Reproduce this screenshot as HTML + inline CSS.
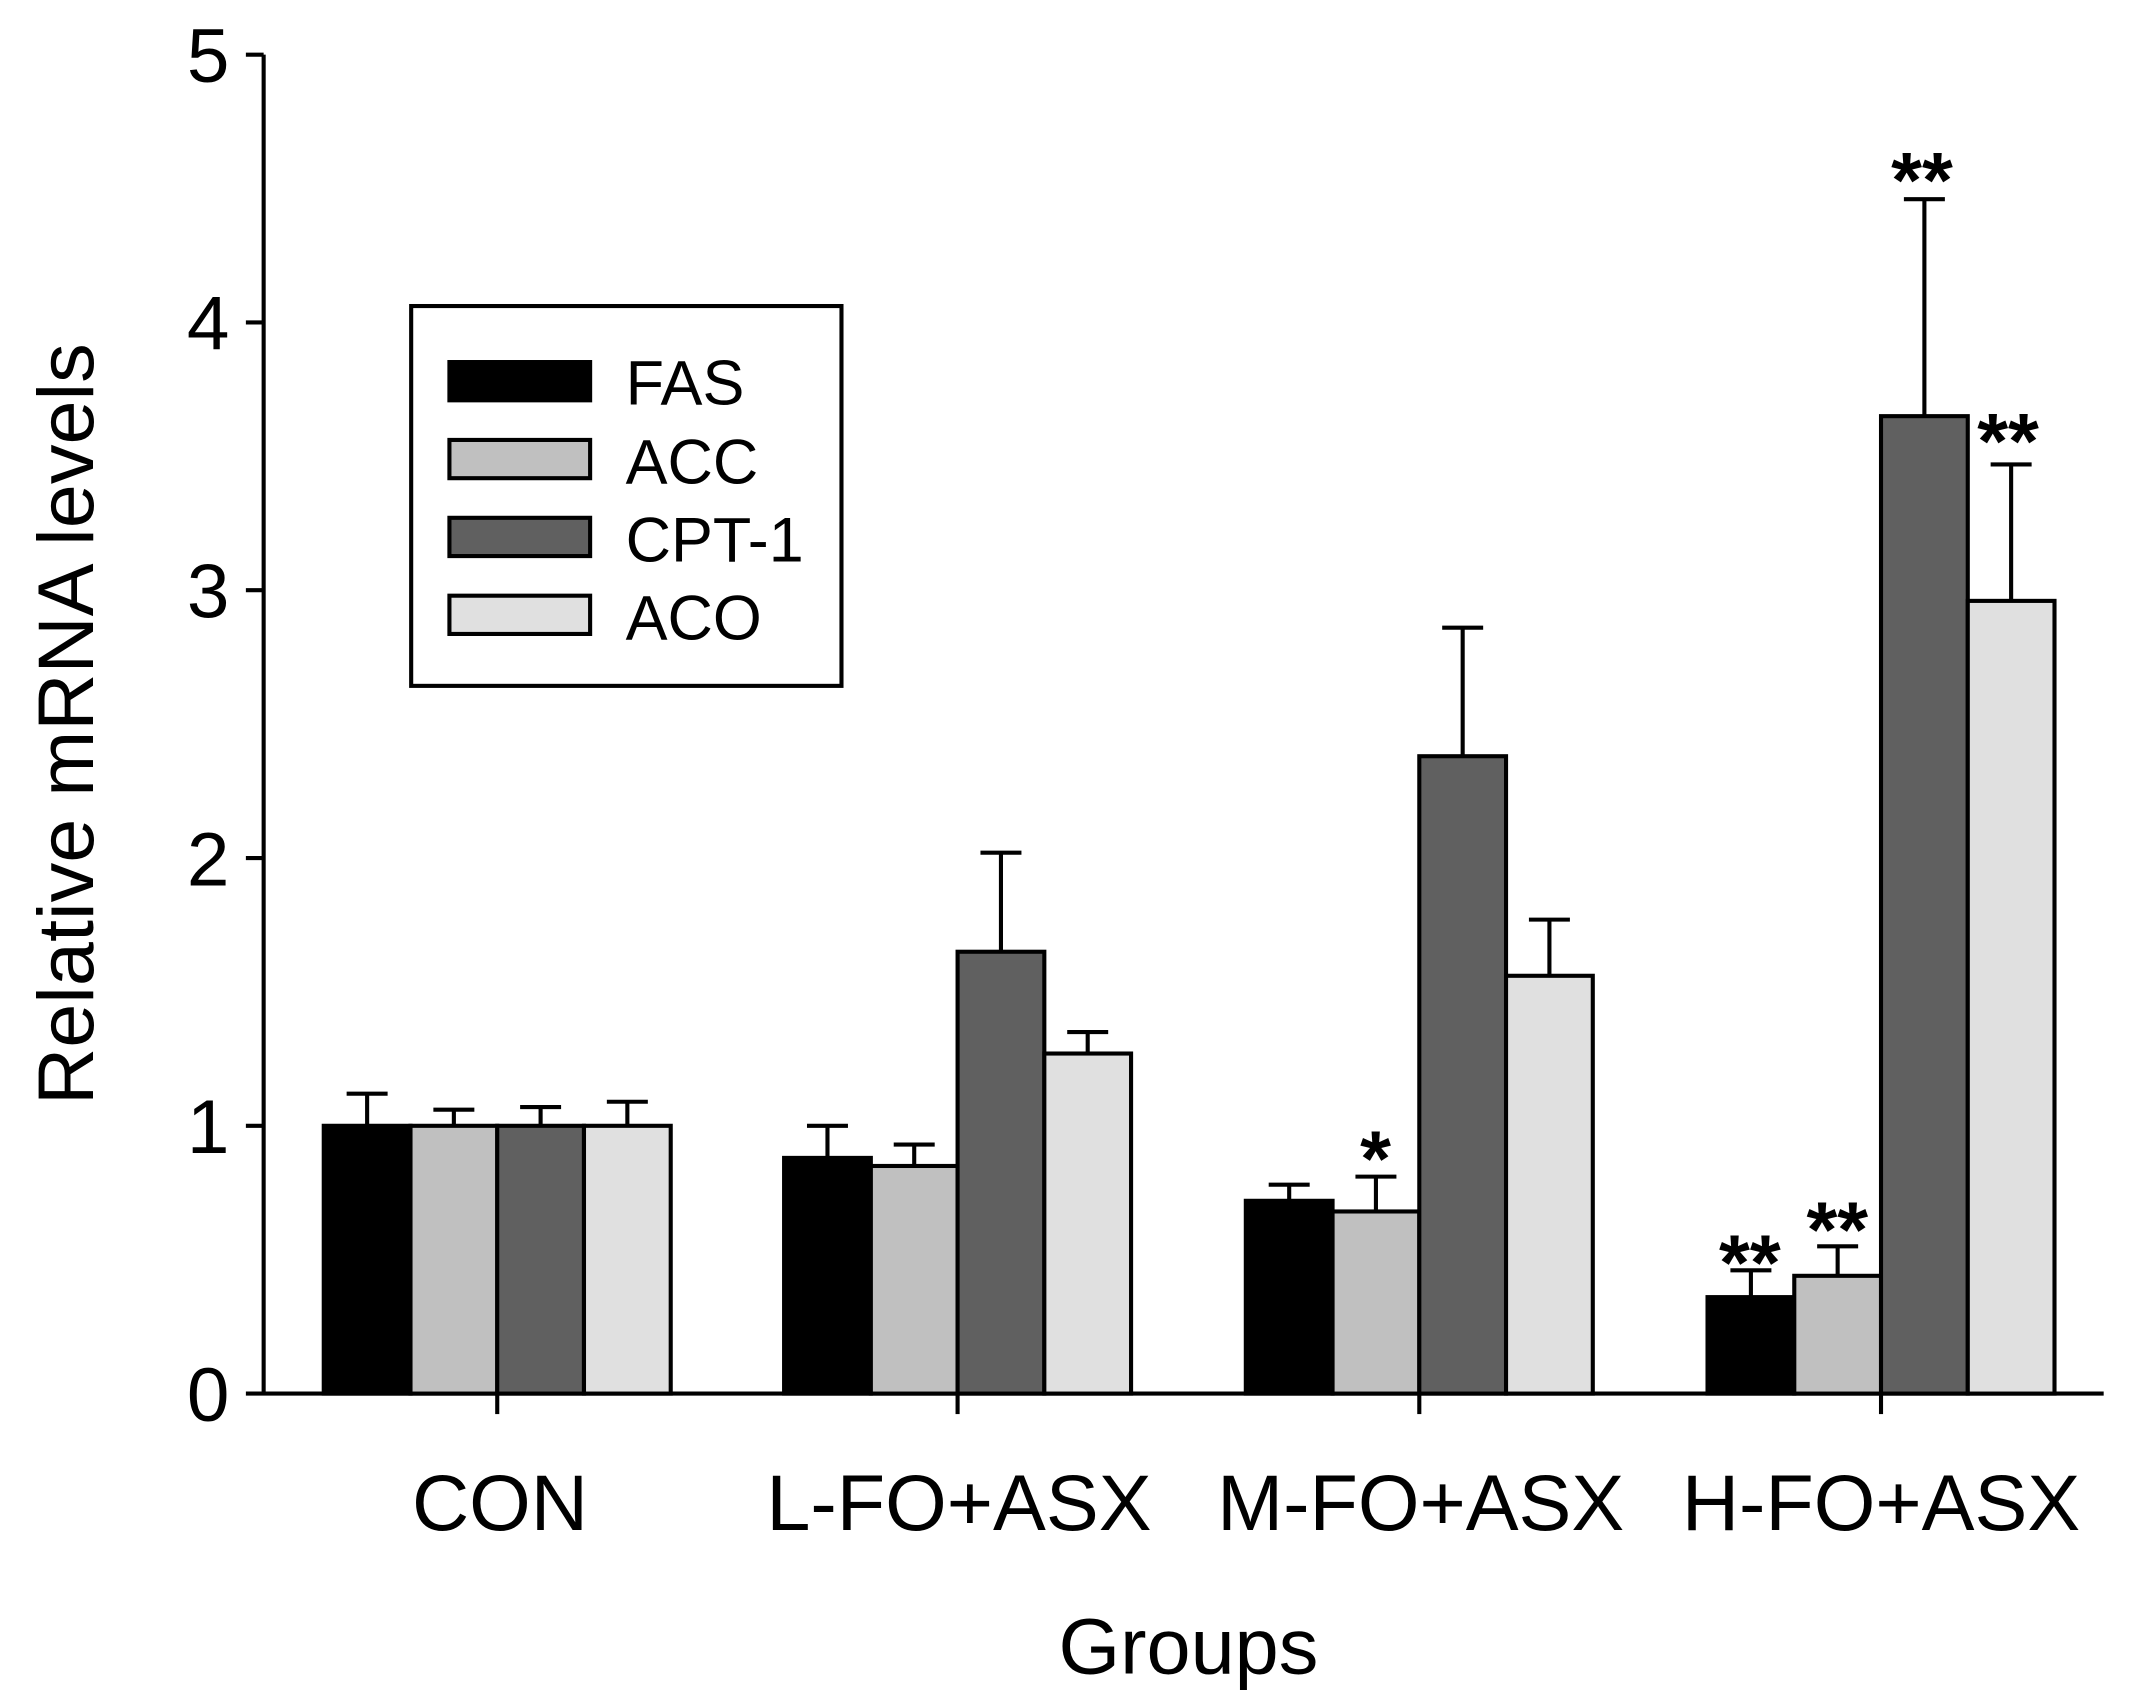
<!DOCTYPE html>
<html><head><meta charset="utf-8"><style>
html,body{margin:0;padding:0;background:#fff;}
svg{display:block;}
text{font-family:"Liberation Sans",Arial,sans-serif;fill:#000;}
</style></head><body>
<svg width="2131" height="1701" viewBox="0 0 1560 1245" preserveAspectRatio="none" xmlns="http://www.w3.org/2000/svg">
<rect width="1560" height="1245" fill="#fff"/>
<g stroke="#000" stroke-width="3" fill="none">
<line x1="193" y1="40" x2="193" y2="1021"/>
<line x1="180" y1="1020" x2="1540" y2="1020"/>
<line x1="180" y1="40" x2="193" y2="40"/>
<line x1="180" y1="236" x2="193" y2="236"/>
<line x1="180" y1="432" x2="193" y2="432"/>
<line x1="180" y1="628" x2="193" y2="628"/>
<line x1="180" y1="824" x2="193" y2="824"/>
<line x1="364" y1="1020" x2="364" y2="1035"/>
<line x1="701" y1="1020" x2="701" y2="1035"/>
<line x1="1039" y1="1020" x2="1039" y2="1035"/>
<line x1="1377" y1="1020" x2="1377" y2="1035"/>
</g>
<g font-size="56" text-anchor="end">
<text x="168" y="1040">0</text><text x="168" y="844">1</text><text x="168" y="648">2</text><text x="168" y="452">3</text><text x="168" y="256">4</text><text x="168" y="60">5</text>
</g>
<g font-size="58" text-anchor="middle">
<text x="366" y="1120">CON</text><text x="702" y="1120">L-FO+ASX</text><text x="1040" y="1120">M-FO+ASX</text><text x="1377" y="1120">H-FO+ASX</text>
<text x="870" y="1225">Groups</text>
<text transform="translate(68,530) rotate(-90)">Relative mRNA levels</text>
</g>
<g stroke="#000" stroke-width="3">
<!-- error bars -->
<path fill="none" d="
M268.75 824V800.5M253.75 800.5H283.75
M332.25 824V812.2M317.25 812.2H347.25
M395.75 824V810.3M380.75 810.3H410.75
M459.25 824V806.4M444.25 806.4H474.25
M605.75 847.5V824M590.75 824H620.75
M669.25 853.4V837.7M654.25 837.7H684.25
M732.75 696.6V624.1M717.75 624.1H747.75
M796.25 771.1V755.4M781.25 755.4H811.25
M943.75 878.9V867.1M928.75 867.1H958.75
M1007.25 886.7V861.2M992.25 861.2H1022.25
M1070.75 553.5V459.4M1055.75 459.4H1085.75
M1134.25 714.2V673.1M1119.25 673.1H1149.25
M1281.75 949.4V929.8M1266.75 929.8H1296.75
M1345.25 933.8V912.2M1330.25 912.2H1360.25
M1408.75 304.6V145.8M1393.75 145.8H1423.75
M1472.25 439.8V339.9M1457.25 339.9H1487.25"/>
<rect x="237" y="824" width="63.5" height="196" fill="#000"/>
<rect x="300.5" y="824" width="63.5" height="196" fill="#c0c0c0"/>
<rect x="364" y="824" width="63.5" height="196" fill="#606060"/>
<rect x="427.5" y="824" width="63.5" height="196" fill="#e0e0e0"/>
<rect x="574" y="847.5" width="63.5" height="172.5" fill="#000"/>
<rect x="637.5" y="853.4" width="63.5" height="166.6" fill="#c0c0c0"/>
<rect x="701" y="696.6" width="63.5" height="323.4" fill="#606060"/>
<rect x="764.5" y="771.1" width="63.5" height="248.9" fill="#e0e0e0"/>
<rect x="912" y="878.9" width="63.5" height="141.1" fill="#000"/>
<rect x="975.5" y="886.7" width="63.5" height="133.3" fill="#c0c0c0"/>
<rect x="1039" y="553.5" width="63.5" height="466.5" fill="#606060"/>
<rect x="1102.5" y="714.2" width="63.5" height="305.8" fill="#e0e0e0"/>
<rect x="1250" y="949.4" width="63.5" height="70.6" fill="#000"/>
<rect x="1313.5" y="933.8" width="63.5" height="86.2" fill="#c0c0c0"/>
<rect x="1377" y="304.6" width="63.5" height="715.4" fill="#606060"/>
<rect x="1440.5" y="439.8" width="63.5" height="580.2" fill="#e0e0e0"/>
</g>
<g stroke="#000" stroke-width="3">
<rect x="301" y="224" width="315" height="278" fill="#fff"/>
<rect x="329" y="265" width="103" height="28" fill="#000"/>
<rect x="329" y="322" width="103" height="28" fill="#c0c0c0"/>
<rect x="329" y="379" width="103" height="28" fill="#606060"/>
<rect x="329" y="436" width="103" height="28" fill="#e0e0e0"/>
</g>
<g font-size="46">
<text x="458" y="296">FAS</text><text x="458" y="354">ACC</text><text x="458" y="411">CPT-1</text><text x="458" y="468">ACO</text>
</g>
<g font-size="58" font-weight="bold" text-anchor="middle">
<text x="1007" y="868">*</text>
<text x="1281" y="944">**</text>
<text x="1345" y="920">**</text>
<text x="1407" y="152">**</text>
<text x="1470" y="343">**</text>
</g>
</svg>
</body></html>
